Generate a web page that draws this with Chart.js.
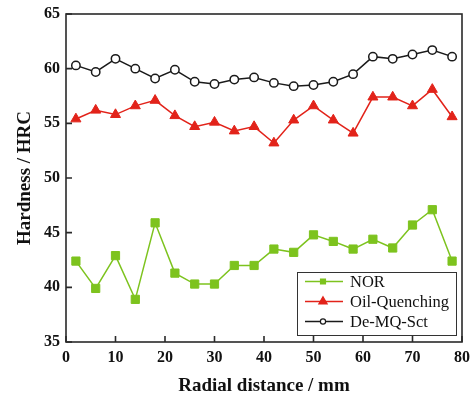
<!DOCTYPE html>
<html>
<head>
<meta charset="utf-8">
<script src="https://cdn.jsdelivr.net/npm/chart.js@4"></script>
<style>
  body { margin: 0; background: #fff; }
  #wrap { width: 471px; height: 400px; }
</style>
</head>
<body>
<div id="wrap"><canvas id="myChart" width="471" height="400"></canvas></div>
<script>
// radial positions (mm)
const distance = [2, 6, 10, 14, 18, 22, 26, 30, 34, 38, 42, 46, 50, 54, 58, 62, 66, 70, 74, 78];

// hardness readings (HRC)
const norValues = [42.4, 39.9, 42.9, 38.9, 45.9, 41.3, 40.3, 40.3, 42.0, 42.0,
                   43.5, 43.2, 44.8, 44.2, 43.5, 44.4, 43.6, 45.7, 47.1, 42.4];
const oilValues = [55.4, 56.2, 55.8, 56.6, 57.1, 55.7, 54.7, 55.1, 54.3, 54.7,
                   53.2, 55.3, 56.6, 55.3, 54.1, 57.4, 57.4, 56.6, 58.1, 55.6];
const demqValues = [60.3, 59.7, 60.9, 60.0, 59.1, 59.9, 58.8, 58.6, 59.0, 59.2,
                    58.7, 58.4, 58.5, 58.8, 59.5, 61.1, 60.9, 61.3, 61.7, 61.1];

const seriesNames = ['NOR', 'Oil-Quenching', 'De-MQ-Sct'];
const legendRadius = [3.5, 4.8, 2.6];

const serif = "'Liberation Serif', 'Times New Roman', serif";

const toPoints = vals => vals.map((v, i) => ({ x: distance[i], y: v }));

// frame, inward ticks and the boxed legend inside the plot
const framePlugin = {
    id: 'frame',
    afterDraw(chart) {
        const ctx = chart.ctx;
        const { left, right, top, bottom } = chart.chartArea;
        const xs = chart.scales.x, ys = chart.scales.y;
        ctx.save();
        ctx.strokeStyle = '#2a2a2a';
        ctx.lineWidth = 1.6;
        ctx.strokeRect(left, top, right - left, bottom - top);
        ctx.beginPath();
        xs.ticks.forEach(t => {
            const px = xs.getPixelForValue(t.value);
            ctx.moveTo(px, bottom);
            ctx.lineTo(px, bottom - 6);
        });
        ys.ticks.forEach(t => {
            const py = ys.getPixelForValue(t.value);
            ctx.moveTo(left, py);
            ctx.lineTo(left + 6, py);
        });
        ctx.stroke();

        // legend
        const bx = 297, by = 272, bw = 159, bh = 63;
        ctx.fillStyle = '#fff';
        ctx.fillRect(bx, by, bw, bh);
        ctx.lineWidth = 1;
        ctx.strokeStyle = '#333';
        ctx.strokeRect(bx + 0.5, by + 0.5, bw, bh);
        ctx.font = '16.5px ' + serif;
        ctx.textBaseline = 'middle';
        chart.data.datasets.forEach((ds, i) => {
            const cy = by + 9.5 + i * 20;
            ctx.strokeStyle = ds.borderColor;
            ctx.lineWidth = 1.5;
            ctx.beginPath();
            ctx.moveTo(305, cy);
            ctx.lineTo(343, cy);
            ctx.stroke();
            ctx.fillStyle = ds.pointBackgroundColor;
            ctx.strokeStyle = ds.pointBorderColor;
            ctx.lineWidth = 1.2;
            Chart.helpers.drawPoint(ctx, {
                pointStyle: ds.pointStyle,
                radius: legendRadius[i],
                borderWidth: 1.2
            }, 323, cy);
            ctx.fillStyle = '#111';
            ctx.fillText(ds.label, 350, cy + 1);
        });
        ctx.restore();
    }
};

const ctx = document.getElementById('myChart').getContext('2d');

const myChart = new Chart(ctx, {
    type: 'line',
    data: {
        datasets: [
            {
                label: seriesNames[0],
                data: toPoints(norValues),
                borderColor: '#7dc31e',
                backgroundColor: '#7dc31e',
                pointBackgroundColor: '#7dc31e',
                pointBorderColor: '#7dc31e',
                pointStyle: 'rect',
                pointRadius: 5.8,
                pointBorderWidth: 1,
                borderWidth: 1.5
            },
            {
                label: seriesNames[1],
                data: toPoints(oilValues),
                borderColor: '#e2231a',
                backgroundColor: '#e2231a',
                pointBackgroundColor: '#e2231a',
                pointBorderColor: '#e2231a',
                pointStyle: 'triangle',
                pointRadius: 5.8,
                pointBorderWidth: 1,
                borderWidth: 1.5
            },
            {
                label: seriesNames[2],
                data: toPoints(demqValues),
                borderColor: '#1a1a1a',
                backgroundColor: '#ffffff',
                pointBackgroundColor: '#ffffff',
                pointBorderColor: '#1a1a1a',
                pointStyle: 'circle',
                pointRadius: 4.2,
                pointBorderWidth: 1.5,
                borderWidth: 1.5
            }
        ]
    },
    options: {
        responsive: false,
        animation: false,
        layout: { padding: { top: 14, right: 9, left: 0, bottom: 0 } },
        plugins: {
            legend: { display: false },
            tooltip: { enabled: false }
        },
        scales: {
            x: {
                type: 'linear',
                min: 0,
                max: 80,
                ticks: { stepSize: 10, color: '#111', padding: 0, font: { family: serif, size: 16, weight: 'bold', lineHeight: 2 } },
                grid: { display: false, drawTicks: false },
                border: { display: false },
                title: {
                    display: true,
                    text: 'Radial distance / mm',
                    color: '#111',
                    font: { family: serif, size: 19, weight: 'bold' },
                    padding: { top: 0, bottom: 3 }
                },
                afterFit(scale) { scale.height = 58; }
            },
            y: {
                min: 35,
                max: 65,
                ticks: { stepSize: 5, color: '#111', padding: 6, font: { family: serif, size: 16, weight: 'bold', lineHeight: 1 } },
                grid: { display: false, drawTicks: false },
                border: { display: false },
                title: {
                    display: true,
                    text: 'Hardness / HRC',
                    color: '#111',
                    font: { family: serif, size: 19, weight: 'bold' },
                    padding: { top: 14, bottom: 0 }
                },
                afterFit(scale) { scale.width = 66; }
            }
        }
    },
    plugins: [framePlugin]
});
</script>
</body>
</html>
